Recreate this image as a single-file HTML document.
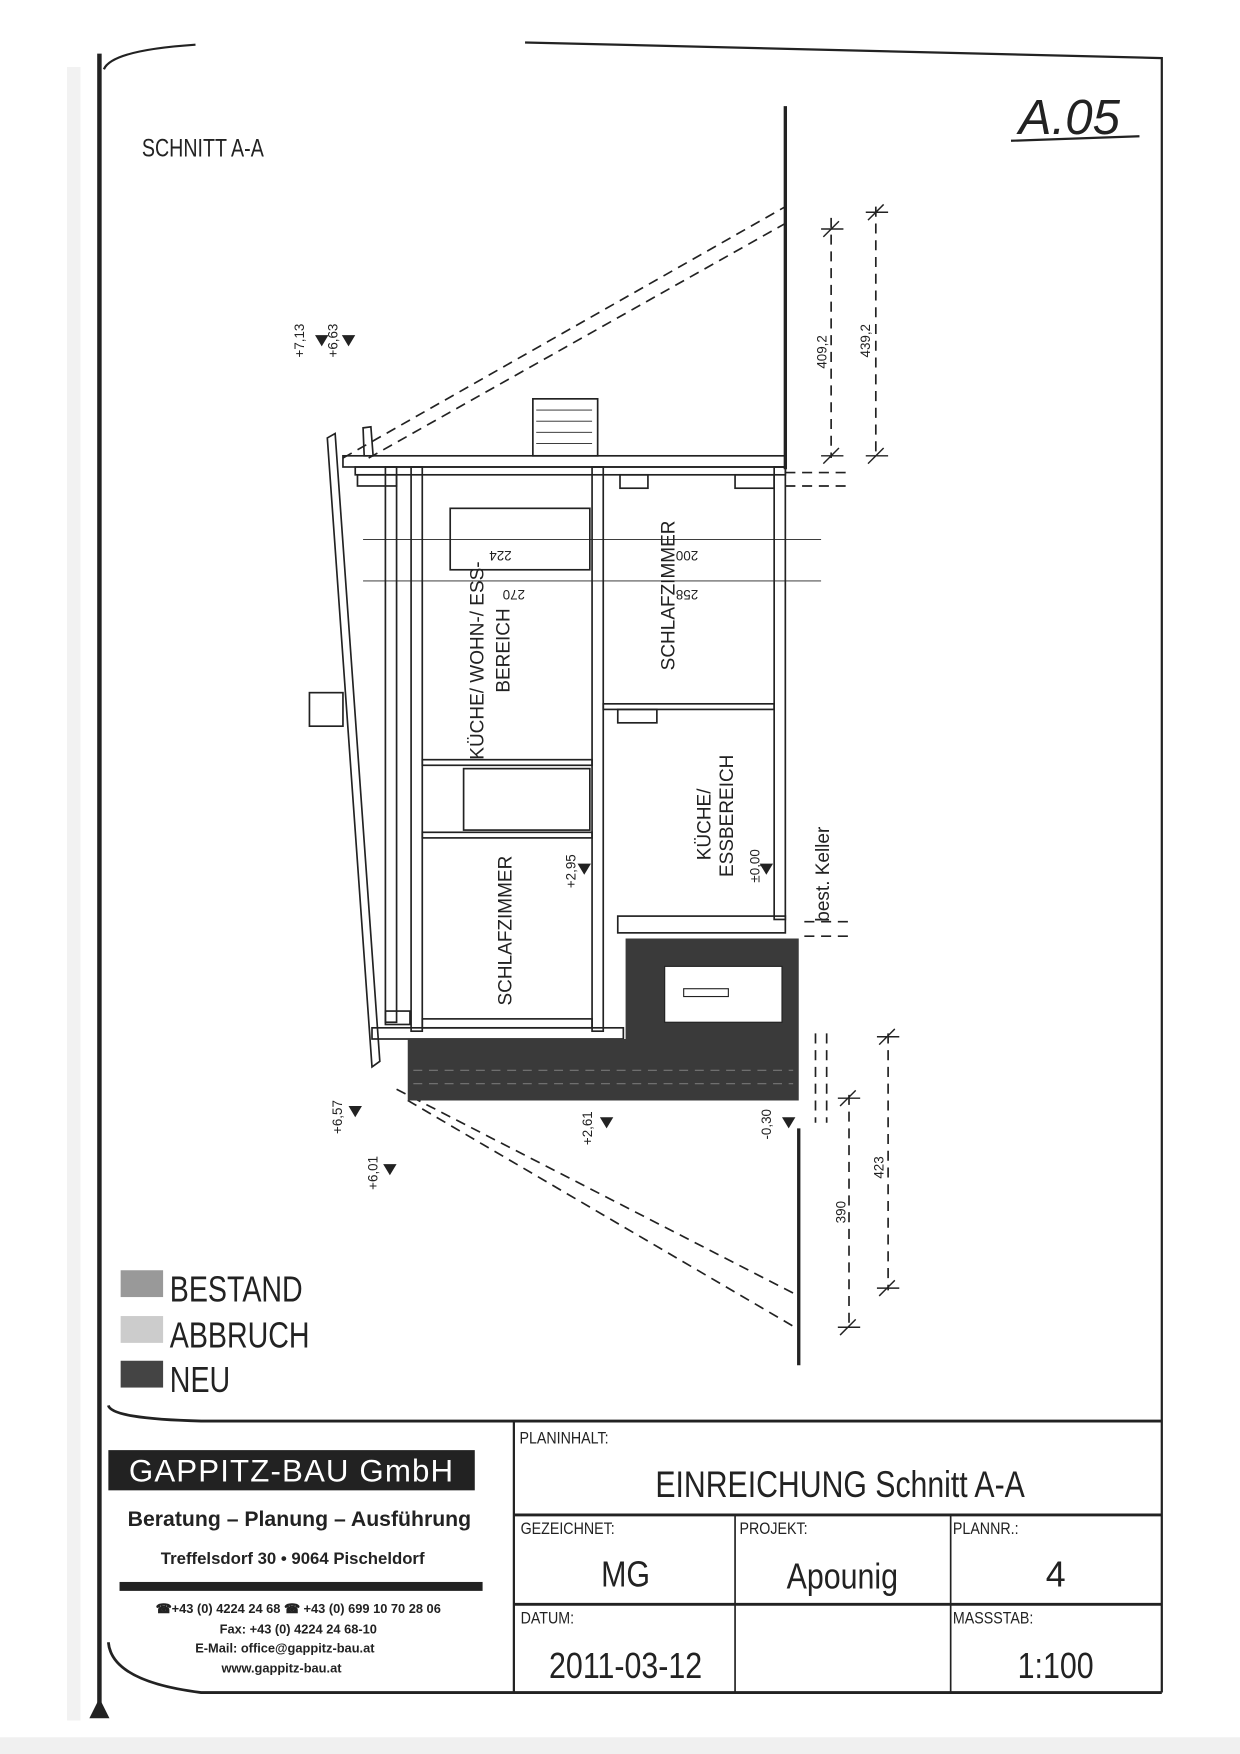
<!DOCTYPE html>
<html><head><meta charset="utf-8"><style>
html,body{margin:0;padding:0;background:#fff}
svg{display:block}
text{font-family:"Liberation Sans",sans-serif;fill:#222}
.n{font-family:"Liberation Sans Narrow","Liberation Sans",sans-serif}
</style></head><body>
<svg width="1240" height="1754" viewBox="0 0 1110 1570" preserveAspectRatio="none" xmlns="http://www.w3.org/2000/svg">
<rect width="1110" height="1570" fill="#fff"/>
<rect x="0" y="1555" width="1110" height="15" fill="#f0f0f0"/>
<rect x="60" y="60" width="12" height="1480" fill="#f2f2f2"/>
<!-- frame -->
<g stroke="#222" fill="none">
<line x1="89" y1="48" x2="89" y2="1530" stroke-width="4"/>
<path d="M93 62 Q100 45 175 40" stroke-width="2"/>
<path d="M470 38 L1040 52 L1040 1515" stroke-width="2"/>
<path d="M97 1258 Q100 1270 180 1272 L1040 1272" stroke-width="2.5"/>
<path d="M97 1470 Q100 1505 180 1515 L1040 1515" stroke-width="2.5"/>
<line x1="460" y1="1272" x2="460" y2="1515" stroke-width="2"/>
<line x1="460" y1="1356" x2="1040" y2="1356" stroke-width="2.5"/>
<line x1="460" y1="1436" x2="1040" y2="1436" stroke-width="2.5"/>
<line x1="658" y1="1356" x2="658" y2="1515" stroke-width="1.5"/>
<line x1="851" y1="1356" x2="851" y2="1515" stroke-width="1.5"/>
</g>
<polygon points="80,1538 98,1538 89,1520" fill="#222"/>
<!-- title block text -->
<text x="465" y="1292" font-size="15" class="n" transform="scale(0.85,1)" style="transform-origin:465px 1292px">PLANINHALT:</text>
<text x="752" y="1340" font-size="33" text-anchor="middle" transform="scale(0.82,1)" style="transform-origin:752px 1340px">EINREICHUNG Schnitt A-A</text>
<text x="466" y="1373" font-size="15" transform="scale(0.85,1)" style="transform-origin:466px 1373px">GEZEICHNET:</text>
<text x="662" y="1373" font-size="15" transform="scale(0.85,1)" style="transform-origin:662px 1373px">PROJEKT:</text>
<text x="853" y="1373" font-size="15" transform="scale(0.85,1)" style="transform-origin:853px 1373px">PLANNR.:</text>
<text x="560" y="1420" font-size="32" text-anchor="middle" transform="scale(0.85,1)" style="transform-origin:560px 1420px">MG</text>
<text x="754" y="1422" font-size="32" text-anchor="middle" transform="scale(0.85,1)" style="transform-origin:754px 1422px">Apounig</text>
<text x="945" y="1420" font-size="32" text-anchor="middle">4</text>
<text x="466" y="1453" font-size="15" transform="scale(0.85,1)" style="transform-origin:466px 1453px">DATUM:</text>
<text x="853" y="1453" font-size="15" transform="scale(0.85,1)" style="transform-origin:853px 1453px">MASSSTAB:</text>
<text x="560" y="1502" font-size="32" text-anchor="middle" transform="scale(0.85,1)" style="transform-origin:560px 1502px">2011-03-12</text>
<text x="945" y="1502" font-size="32" text-anchor="middle" transform="scale(0.85,1)" style="transform-origin:945px 1502px">1:100</text>
<!-- company -->
<rect x="97" y="1298" width="328" height="36" fill="#222"/>
<text x="261" y="1326" font-size="28" text-anchor="middle" style="fill:#fff" letter-spacing="1">GAPPITZ-BAU GmbH</text>
<text x="268" y="1366" font-size="19" font-weight="bold" text-anchor="middle">Beratung – Planung – Ausführung</text>
<text x="262" y="1400" font-size="15" font-weight="bold" text-anchor="middle">Treffelsdorf 30 • 9064 Pischeldorf</text>
<rect x="107" y="1416" width="325" height="8" fill="#222"/>
<text x="267" y="1444" font-size="11.5" font-weight="bold" text-anchor="middle">☎+43 (0) 4224 24 68 ☎ +43 (0) 699 10 70 28 06</text>
<text x="267" y="1462" font-size="11.5" font-weight="bold" text-anchor="middle">Fax: +43 (0) 4224 24 68-10</text>
<text x="255" y="1479" font-size="11.5" font-weight="bold" text-anchor="middle">E-Mail: office@gappitz-bau.at</text>
<text x="252" y="1497" font-size="11.5" font-weight="bold" text-anchor="middle">www.gappitz-bau.at</text>
<!-- legend -->
<rect x="108" y="1137" width="38" height="24" fill="#999"/>
<rect x="108" y="1178" width="38" height="24" fill="#ccc"/>
<rect x="108" y="1218" width="38" height="24" fill="#444"/>
<g font-size="32" class="n">
<text x="152" y="1165" transform="scale(0.8,1)" style="transform-origin:152px 1165px">BESTAND</text>
<text x="152" y="1206" transform="scale(0.8,1)" style="transform-origin:152px 1206px">ABBRUCH</text>
<text x="152" y="1246" transform="scale(0.8,1)" style="transform-origin:152px 1246px">NEU</text>
</g>
<text x="127" y="140" font-size="22" transform="scale(0.8,1)" style="transform-origin:127px 140px">SCHNITT A-A</text>
<text x="912" y="120" font-size="44" font-style="italic" font-family="Liberation Serif">A.05</text>
<line x1="905" y1="126" x2="1020" y2="122" stroke="#222" stroke-width="2"/>
<!-- drawing -->
<g stroke="#222" fill="none" stroke-width="1.5">
<line x1="703" y1="95" x2="703" y2="420" stroke-width="3"/>
<line x1="715" y1="1010" x2="715" y2="1222" stroke-width="3"/>
<g stroke-dasharray="9,6">
<line x1="307" y1="410" x2="703" y2="185"/>
<line x1="330" y1="410" x2="703" y2="200"/>
<line x1="365" y1="985" x2="715" y2="1190"/>
<line x1="355" y1="975" x2="715" y2="1160"/>
<line x1="744" y1="195" x2="744" y2="410"/>
<line x1="784" y1="185" x2="784" y2="410"/>
<line x1="760" y1="980" x2="760" y2="1190"/>
<line x1="795" y1="925" x2="795" y2="1155"/>
<line x1="703" y1="423" x2="760" y2="423"/>
<line x1="703" y1="435" x2="760" y2="435"/>
<line x1="720" y1="825" x2="760" y2="825"/>
<line x1="720" y1="838" x2="760" y2="838"/>
<line x1="730" y1="925" x2="730" y2="1005"/>
<line x1="740" y1="925" x2="740" y2="1005"/>
</g>
<g stroke-width="1.3">
<line x1="735" y1="205" x2="755" y2="205"/><line x1="737" y1="212" x2="751" y2="198"/>
<line x1="735" y1="408" x2="755" y2="408"/><line x1="737" y1="415" x2="751" y2="401"/>
<line x1="775" y1="190" x2="795" y2="190"/><line x1="777" y1="197" x2="791" y2="183"/>
<line x1="775" y1="408" x2="795" y2="408"/><line x1="777" y1="415" x2="791" y2="401"/>
<line x1="750" y1="983" x2="770" y2="983"/><line x1="752" y1="990" x2="766" y2="976"/>
<line x1="750" y1="1188" x2="770" y2="1188"/><line x1="752" y1="1195" x2="766" y2="1181"/>
<line x1="785" y1="928" x2="805" y2="928"/><line x1="787" y1="935" x2="801" y2="921"/>
<line x1="785" y1="1153" x2="805" y2="1153"/><line x1="787" y1="1160" x2="801" y2="1146"/>
</g>
<!-- roof & chimney -->
<rect x="307" y="408" width="396" height="10"/>
<rect x="477" y="357" width="58" height="51"/>
<g stroke-width="0.8"><line x1="480" y1="367" x2="530" y2="367"/><line x1="480" y1="377" x2="530" y2="377"/><line x1="480" y1="387" x2="530" y2="387"/><line x1="480" y1="397" x2="530" y2="397"/></g>
<path d="M293 392 L300 388 L340 950 L333 955 Z"/>
<path d="M325 383 L332 382 L334 408 L326 408 Z"/>
<rect x="277" y="620" width="30" height="30"/>
<!-- walls -->
<rect x="345" y="418" width="10" height="497"/>
<rect x="368" y="418" width="10" height="505"/>
<rect x="530" y="418" width="10" height="505"/>
<rect x="693" y="418" width="10" height="405"/>
<rect x="318" y="418" width="385" height="7"/>
<rect x="320" y="425" width="35" height="10"/>
<rect x="555" y="425" width="25" height="12"/>
<rect x="658" y="425" width="35" height="12"/>
<rect x="403" y="455" width="125" height="55"/>
<rect x="378" y="680" width="152" height="5"/>
<rect x="378" y="745" width="152" height="5"/>
<rect x="415" y="688" width="113" height="55"/>
<rect x="540" y="630" width="153" height="5"/>
<rect x="553" y="635" width="35" height="12"/>
<rect x="553" y="820" width="150" height="15"/>
<rect x="378" y="912" width="152" height="8"/>
<rect x="333" y="920" width="225" height="10"/>
<rect x="345" y="905" width="22" height="12"/>
<line x1="325" y1="483" x2="735" y2="483" stroke-width="0.8"/>
<line x1="325" y1="520" x2="735" y2="520" stroke-width="0.8"/>
</g>
<!-- dark new part -->
<path d="M560 840 L715 840 L715 985 L365 985 L365 930 L560 930 Z" fill="#3a3a3a"/>
<rect x="595" y="865" width="105" height="50" fill="#fff" stroke="#222"/>
<rect x="612" y="885" width="40" height="7" fill="#fff" stroke="#222"/>
<g stroke="#777" stroke-dasharray="8,6" stroke-width="1"><line x1="370" y1="958" x2="710" y2="958"/><line x1="370" y1="970" x2="710" y2="970"/></g>
<!-- rotated labels -->
<g font-size="17">
<text transform="translate(433,680) rotate(-90)">KÜCHE/ WOHN-/ ESS-</text>
<text transform="translate(456,620) rotate(-90)">BEREICH</text>
<text transform="translate(604,600) rotate(-90)">SCHLAFZIMMER</text>
<text transform="translate(636,770) rotate(-90)">KÜCHE/</text>
<text transform="translate(656,785) rotate(-90)">ESSBEREICH</text>
<text transform="translate(458,900) rotate(-90)">SCHLAFZIMMER</text>
<text transform="translate(742,825) rotate(-90)">best. Keller</text>
</g>
<g font-size="12">
<text transform="translate(272,320) rotate(-90)">+7,13</text>
<text transform="translate(302,320) rotate(-90)">+6,63</text>
<text transform="translate(740,330) rotate(-90)">409,2</text>
<text transform="translate(779,320) rotate(-90)">439,2</text>
<text transform="translate(306,1015) rotate(-90)">+6,57</text>
<text transform="translate(338,1065) rotate(-90)">+6,01</text>
<text transform="translate(530,1025) rotate(-90)">+2,61</text>
<text transform="translate(690,1020) rotate(-90)">-0,30</text>
<text transform="translate(757,1095) rotate(-90)">390</text>
<text transform="translate(791,1055) rotate(-90)">423</text>
<text transform="translate(515,795) rotate(-90)">+2,95</text>
<text transform="translate(680,790) rotate(-90)">±0,00</text>
<text transform="translate(458,493) rotate(180)">224</text>
<text transform="translate(470,528) rotate(180)">270</text>
<text transform="translate(625,493) rotate(180)">200</text>
<text transform="translate(625,528) rotate(180)">258</text>
</g>
<g fill="#222">
<polygon points="282,300 294,300 288,310"/><polygon points="306,300 318,300 312,310"/>
<polygon points="312,990 324,990 318,1000"/><polygon points="343,1042 355,1042 349,1052"/>
<polygon points="537,1000 549,1000 543,1010"/><polygon points="700,1000 712,1000 706,1010"/>
<polygon points="517,773 529,773 523,783"/><polygon points="680,773 692,773 686,783"/>
</g>
</svg>
</body></html>
